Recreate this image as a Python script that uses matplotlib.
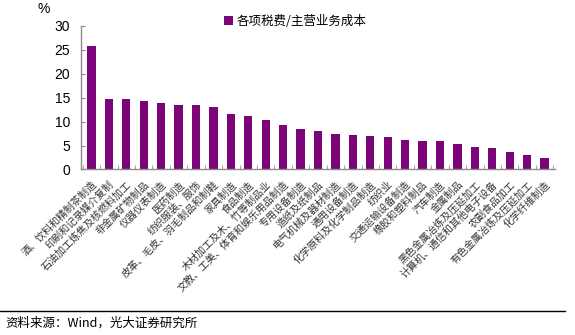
import numpy as np
import matplotlib
matplotlib.use("Agg")
import matplotlib.pyplot as plt

plt.rcParams["font.family"] = ["Noto Sans CJK SC", "DejaVu Sans"]

industries = [
    "酒、饮料和精制茶制造", "印刷和记录媒介复制", "石油加工炼焦及核燃料加工",
    "非金属矿物制品", "仪器仪表制造", "医药制造", "纺织服装、服饰",
    "皮革、毛皮、羽毛制品和制鞋", "家具制造", "食品制造",
    "木材加工及木、竹等制品业", "文教、工美、体育和娱乐用品制造",
    "专用设备制造", "造纸及纸制品", "电气机械及器材制造", "通用设备制造",
    "化学原料及化学制品制造", "纺织业", "交通运输设备制造", "橡胶和塑料制品",
    "汽车制造", "金属制品", "黑色金属冶炼及压延加工",
    "计算机、通信和其他电子设备", "农副食品加工", "有色金属冶炼及压延加工",
    "化学纤维制造",
]
tax_ratio = [
    25.8, 14.7, 14.7, 14.3, 13.8, 13.5, 13.4, 13.1, 11.5, 11.2, 10.3, 9.3,
    8.4, 8.0, 7.5, 7.3, 7.0, 6.7, 6.1, 5.9, 5.9, 5.4, 4.6, 4.4, 3.6, 3.0, 2.3,
]
series_name = "各项税费/主营业务成本"

purple = "#7a0478"
grey = "#8c8c8c"

fig = plt.figure(figsize=(5.75, 3.35), dpi=100)
ax = fig.add_axes([81 / 575, 1 - 169.5 / 335, 474 / 575, 143.5 / 335])

x = np.arange(len(industries))
ax.bar(x, tax_ratio, width=0.48, color=purple, label=series_name)

ax.set_xlim(-0.6, len(industries) - 0.4)
ax.set_ylim(0, 30)
ax.set_yticks(range(0, 31, 5))
ax.tick_params(axis="y", direction="in", length=3, color=grey,
               labelsize=10, pad=8)
for t in ax.get_yticklabels():
    t.set_family(["Liberation Sans", "DejaVu Sans"])

ax.set_xticks(x)
ax.set_xticklabels(industries, rotation=45, ha="right", rotation_mode="anchor",
                   fontsize=7.3, color="#333333")
ax.tick_params(axis="x", length=0, pad=7)
ax.set_xticks(np.arange(-0.5, len(industries), 1), minor=True)
ax.tick_params(axis="x", which="minor", direction="in", length=3, color=grey)

for side in ["top", "right"]:
    ax.spines[side].set_visible(False)
for side in ["left", "bottom"]:
    ax.spines[side].set_color(grey)
    ax.spines[side].set_linewidth(1)

fig.text(38 / 575, 1 - 9 / 335, "%", fontsize=10, va="center",
         family=["Liberation Sans", "DejaVu Sans"])

ax.legend(loc="upper left", bbox_to_anchor=(215 / 575, 1 - 6 / 335),
          bbox_transform=fig.transFigure, frameon=False, fontsize=9,
          handlelength=0.7, handleheight=0.7, handletextpad=0.3,
          borderpad=0.2)

fig.add_artist(plt.Line2D([0, 565 / 575], [1 - 311 / 335, 1 - 311 / 335],
                          transform=fig.transFigure, color="black", lw=1))
fig.text(5 / 575, 1 - 323 / 335, "资料来源：Wind，光大证券研究所",
         fontsize=9, va="center")

fig.savefig("out.png", dpi=100)
